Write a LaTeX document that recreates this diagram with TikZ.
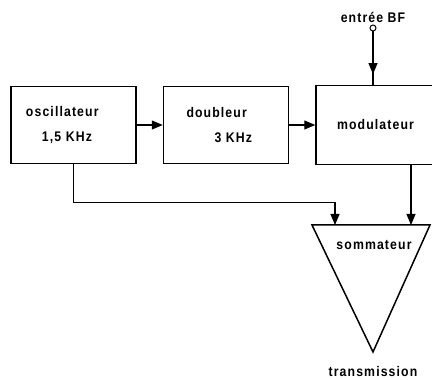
\documentclass[tikz,border=0pt]{standalone}
\usepackage{fontspec}
\setmainfont{Liberation Sans}[FakeStretch=0.88, LetterSpace=8]
\usetikzlibrary{arrows.meta, positioning, decorations.markings}

\begin{document}
\begin{tikzpicture}[
    x=1bp, y=1bp,
    font=\fontsize{14}{16}\selectfont\bfseries,
    box/.style={
      rectangle, draw=black, line width=1.5bp,
      minimum width=125bp, minimum height=77bp,
      text width=95bp, inner xsep=15bp, align=left
    },
    arr/.style={-{Triangle[length=11bp, width=9bp]}, line width=1.1bp},
    midarr/.style={line width=1.1bp, postaction={decorate},
      decoration={markings, mark=at position 0.8 with {\arrow{Triangle[length=11bp, width=9bp]}}}}
  ]
    \useasboundingbox (0,0) rectangle (432,380);

    \node[box] (osc) at (73.5,255) {
      oscillateur\\[9bp]
      \hspace*{16bp}1,5 KHz
    };
    \node[box, minimum width=123bp, right=26bp of osc] (doub) {
      \hspace*{8bp}doubleur\\[9bp]
      \hspace*{36bp}3 KHz
    };
    \node[box, minimum width=119bp, minimum height=79bp, text width=89bp, align=center,
      right=26bp of doub] (mod) {modulateur};

    % entree BF
    \node[circle, draw, line width=1bp, inner sep=0pt, minimum size=6bp] (bf) at (373,352) {};
    \node[above=-2bp of bf] (bflabel) {entrée BF};

    % sommateur
    \coordinate (tl) at (312,155);
    \coordinate (tr) at (430,155);
    \coordinate (tb) at (373,28);
    \draw[line width=1.5bp, line join=miter] (tl) -- (tr) -- (tb) -- cycle;
    \node (som) at (374,135) {sommateur};
    \node (trans) at (373,8) {transmission};
    \coordinate (in1) at (335,155);
    \coordinate (in2) at (411,155);

    \draw[arr] (osc) -- (doub);
    \draw[arr] (doub) -- (mod);
    \draw[midarr] (bf.south) -- (bf.south |- mod.north);
    \draw[arr] (osc.south) -- ++(0,-38) -| (in1);
    \draw[arr] (in2 |- mod.south) -- (in2);
  \end{tikzpicture}
\end{document}
